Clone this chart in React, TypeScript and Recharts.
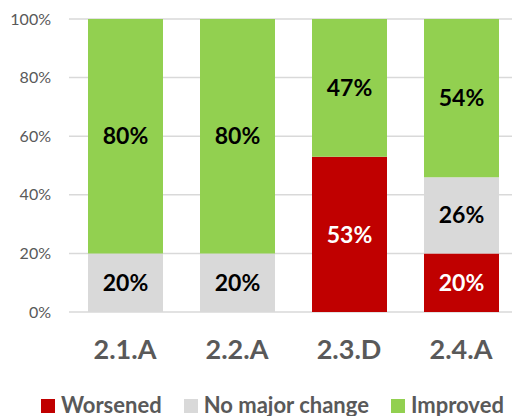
import { BarChart, Bar, XAxis, YAxis, CartesianGrid, Legend, LabelList } from 'recharts';

const categories = ['2.1.A', '2.2.A', '2.3.D', '2.4.A'];
const worsened = [0, 0, 53, 20];
const noMajorChange = [20, 20, 0, 26];
const improved = [80, 80, 47, 54];
const yTicks = [0, 20, 40, 60, 80, 100];

const series = [
  { key: 'worsened', name: 'Worsened', color: '#C00000', label: '#FFFFFF' },
  { key: 'noChange', name: 'No major change', color: '#D9D9D9', label: '#000000' },
  { key: 'improved', name: 'Improved', color: '#92D050', label: '#000000' },
];

const data = categories.map((c, i) => ({
  name: c,
  worsened: worsened[i],
  noChange: noMajorChange[i],
  improved: improved[i],
}));

const font = 'Lato, "Open Sans", sans-serif';

if (typeof document !== 'undefined') {
  document.body.style.margin = '0';
}

function LegendBox() {
  return (
    <div
      style={{
        height: 26,
        lineHeight: '26px',
        paddingLeft: 41,
        whiteSpace: 'nowrap',
        fontFamily: font,
        fontWeight: 700,
        fontSize: 22,
        color: '#595959',
      }}
    >
      {series.map((s) => (
        <span key={s.key} style={{ marginRight: 22 }}>
          <span
            style={{
              width: 14,
              height: 14,
              background: s.color,
              marginRight: 6,
              display: 'inline-block',
              verticalAlign: 'baseline',
            }}
          />
          {s.name}
        </span>
      ))}
    </div>
  );
}

export default function App() {
  return (
    <div style={{ width: 512, height: 416, overflow: 'hidden' }}>
      <BarChart width={520} height={416} data={data} margin={{ top: 19, right: 3, left: 0, bottom: 0 }}>
        <CartesianGrid vertical={false} stroke="#D9D9D9" strokeWidth={1.5} />
        <XAxis
          dataKey="name"
          axisLine={false}
          tickLine={false}
          tickSize={0}
          tickMargin={28}
          height={78}
          tick={{ fill: '#595959', fontSize: 27, fontWeight: 700, fontFamily: font }}
        />
        <YAxis
          domain={[0, 100]}
          ticks={yTicks}
          width={69}
          axisLine={false}
          tickLine={false}
          tickSize={8}
          tickMargin={10}
          tickFormatter={(v) => `${v}%`}
          tick={{ fill: '#595959', fontSize: 16, fontFamily: font }}
        />
        <Legend
          verticalAlign="bottom"
          content={() => <LegendBox />}
          wrapperStyle={{ left: 0, top: 392, bottom: 'auto', width: 520, height: 26 }}
        />
        {series.map((s) => (
          <Bar key={s.key} dataKey={s.key} name={s.name} stackId="a" fill={s.color} barSize={75} isAnimationActive={false}>
            <LabelList
              dataKey={s.key}
              position="center"
              formatter={(v: number) => (v ? `${v}%` : '')}
              style={{ fill: s.label, fontSize: 23, fontWeight: 700, fontFamily: font }}
            />
          </Bar>
        ))}
      </BarChart>
    </div>
  );
}
